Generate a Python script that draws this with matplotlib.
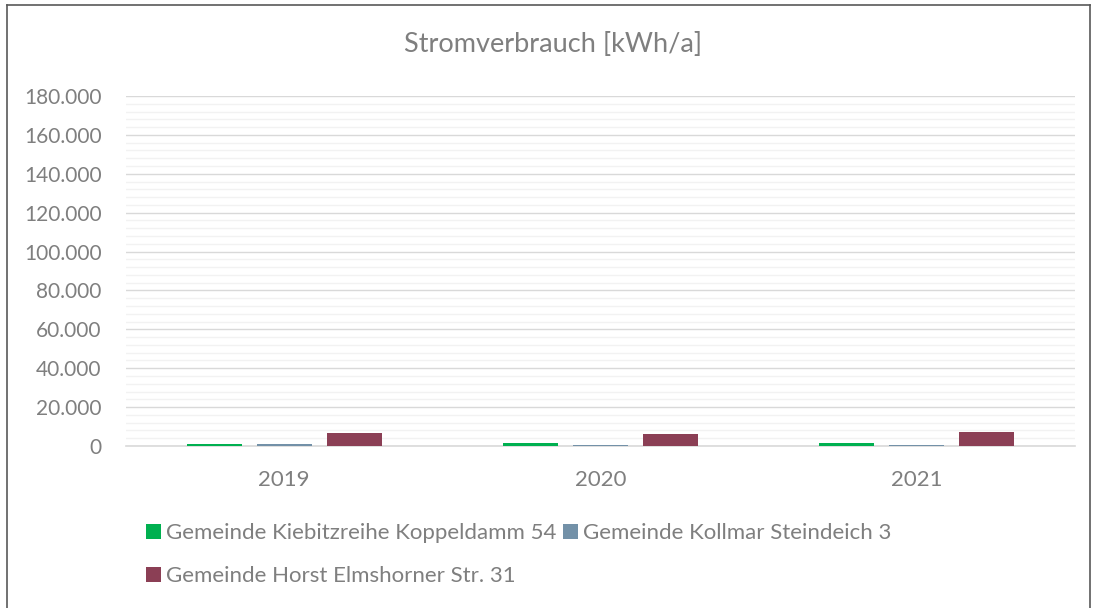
import numpy as np
import matplotlib.pyplot as plt
from matplotlib.lines import Line2D
from matplotlib.ticker import MultipleLocator, FuncFormatter

years = ["2019", "2020", "2021"]
kiebitzreihe = [1000, 1800, 1400]
kollmar = [800, 600, 500]
horst = [6800, 6400, 7000]

series_names = [
    "Gemeinde Kiebitzreihe Koppeldamm 54",
    "Gemeinde Kollmar Steindeich 3",
    "Gemeinde Horst Elmshorner Str. 31",
]
colors = ["#00B050", "#7391A8", "#8B3F55"]

plt.rcParams["font.family"] = ["Lato", "DejaVu Sans"]
text_gray = "#7F7F7F"

fig = plt.figure(figsize=(10.93, 6.08), dpi=100)
ax = fig.add_axes([126 / 1093, 1 - 446 / 608, 949 / 1093, 350 / 608])

x = np.arange(len(years))
width = 0.174
offset = 0.2215

bars = []
for i, (vals, name, col) in enumerate(zip([kiebitzreihe, kollmar, horst], series_names, colors)):
    b = ax.bar(x + (i - 1) * offset, vals, width, color=col, label=name, zorder=3)
    bars.append(b)

ax.set_xlim(-0.5, 2.5)
ax.set_ylim(0, 180000)
ax.set_xticks(x)
ax.set_xticklabels(years)
ax.yaxis.set_major_locator(MultipleLocator(20000))
ax.yaxis.set_minor_locator(MultipleLocator(4000))
ax.yaxis.set_major_formatter(FuncFormatter(lambda v, p: f"{int(v):,}".replace(",", ".")))

ax.grid(axis="y", which="major", color="#D9D9D9", linewidth=1, zorder=0)
ax.grid(axis="y", which="minor", color="#F2F2F2", linewidth=1, zorder=0)
ax.tick_params(axis="both", which="both", length=0, colors=text_gray)
ax.tick_params(axis="x", labelsize=16, pad=17)
ax.tick_params(axis="y", labelsize=15, pad=17.5)
for side in ["top", "right", "left"]:
    ax.spines[side].set_visible(False)
ax.spines["bottom"].set_color("#D9D9D9")
ax.spines["bottom"].set_linewidth(1.2)

fig.text(553 / 1093, 1 - 45 / 608, "Stromverbrauch [kWh/a]", ha="center", va="center",
         fontsize=19.5, color="#7F7F7F")

# legend: reorder so the third series ends up on the second row
handles = [bars[0], bars[2], bars[1]]
labels = [series_names[0], series_names[2], series_names[1]]
leg = fig.legend(handles, labels, ncol=2, loc="upper left",
                 bbox_to_anchor=(135 / 1093, 1 - 512 / 608), frameon=False,
                 fontsize=16, handlelength=0.65, handleheight=0.65, handletextpad=0.25,
                 columnspacing=0.3, labelspacing=1.05, borderpad=0)
for t in leg.get_texts():
    t.set_color(text_gray)

# outer chart border
border = "#595959"
fig.add_artist(Line2D([7 / 1093, 7 / 1093], [0, 1 - 5 / 608], color=border, lw=1.2))
fig.add_artist(Line2D([7 / 1093, 1090 / 1093], [1 - 5 / 608, 1 - 5 / 608], color=border, lw=1.2))
fig.add_artist(Line2D([1090 / 1093, 1090 / 1093], [0, 1 - 5 / 608], color=border, lw=1.2))

fig.savefig("out.png", dpi=100)
